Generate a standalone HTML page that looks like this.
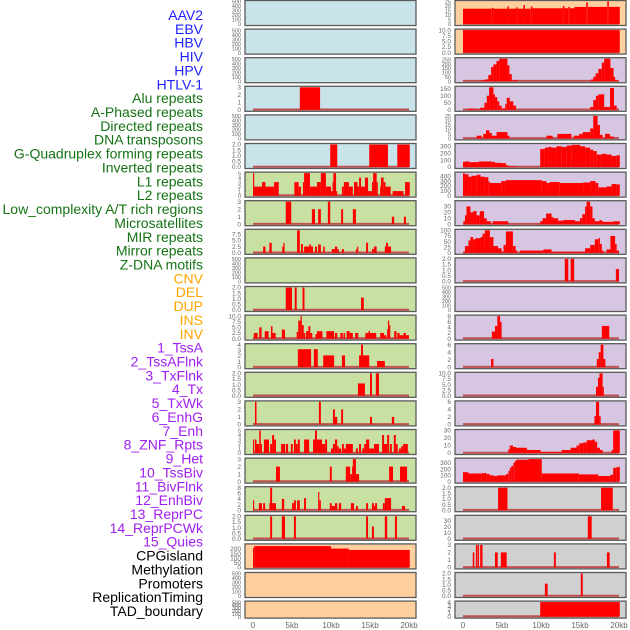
<!DOCTYPE html>
<html><head><meta charset="utf-8">
<style>
html,body{margin:0;padding:0;background:#fff;}
svg{display:block;font-family:"Liberation Sans",sans-serif;}
</style></head>
<body>
<svg id="chart" width="630" height="630" viewBox="0 0 630 630">
<g id="labels"></g>
<g id="panels"></g>
<g id="xaxis"></g>
</svg>
<script>
const trackNames = ["AAV2","EBV","HBV","HIV","HPV","HTLV-1","Alu repeats","A-Phased repeats","Directed repeats","DNA transposons","G-Quadruplex forming repeats","Inverted repeats","L1 repeats","L2 repeats","Low_complexity A/T rich regions","Microsatellites","MIR repeats","Mirror repeats","Z-DNA motifs","CNV","DEL","DUP","INS","INV","1_TssA","2_TssAFlnk","3_TxFlnk","4_Tx","5_TxWk","6_EnhG","7_Enh","8_ZNF_Rpts","9_Het","10_TssBiv","11_BivFlnk","12_EnhBiv","13_ReprPC","14_ReprPCWk","15_Quies","CPGisland","Methylation","Promoters","ReplicationTiming","TAD_boundary"];
const trackGroups = [0,0,0,0,0,0,1,1,1,1,1,1,1,1,1,1,1,1,1,2,2,2,2,2,3,3,3,3,3,3,3,3,3,3,3,3,3,3,3,4,4,4,4,4];
const xTicks = [0,5,10,15,20];
const xTickLabels = ["0","5kb","10kb","15kb","20kb"];

// Left column: segments [startKb, endKb, value]
const L00=[],L01=[],L02=[],L04=[],L09=[],L20=[],L21=[];
const L03=[[6.0,8.6,3]];
const L05=[[9.9,10.8,2],[14.9,17.3,2],[18.5,20.1,2]];
const L06=[[0,0.1,5],[0.1,1.15,2],[1.15,1.6,3],[1.6,2.7,2],[2.7,3.3,3],[5.3,5.85,3],[5.85,6.15,2],[6.4,6.55,3],[6.55,7.3,5],[7.3,8.2,2],[8.2,8.7,3],[8.7,9.35,5],[9.35,10.0,2],[10.0,10.2,1],[10.2,10.3,3],[10.3,10.65,5],[10.65,10.8,1],[11.4,11.65,2],[11.65,12.3,3],[12.3,12.8,2],[12.95,13.4,3],[13.4,13.6,2],[13.6,13.85,4],[13.85,14.35,2],[14.35,14.75,4],[14.75,15.25,1],[15.25,15.4,3],[15.4,15.85,5],[15.85,16.0,3],[16.3,16.4,2],[16.4,16.75,4],[16.75,17.0,3],[17.0,17.65,2],[17.9,19.3,1],[19.5,20.1,3]];
const L07=[[4.2,4.9,3],[7.55,7.95,2],[8.35,8.7,2],[9.6,9.9,3],[11.3,11.55,2],[12.8,13.2,2],[17.8,18.1,1],[19.35,19.6,1]];
const L08=[[1.3,1.6,2.5],[2.1,2.4,4],[3.75,3.9,2.5],[3.9,4.05,4],[5.65,6.0,9],[6.15,6.4,3.5],[6.55,7.2,2.5],[7.2,7.45,3.3],[7.45,7.7,2.5],[7.95,8.2,2.5],[8.35,8.7,3.3],[9.0,9.2,2.5],[10.1,10.5,1.5],[10.5,10.8,2.5],[10.8,11.0,1.5],[11.4,11.65,1.5],[13.2,13.35,1.5],[13.35,13.5,2.5],[14.5,14.75,4],[15.25,15.5,1.5],[15.5,15.85,2.5],[16.9,17.05,2.5],[17.05,17.3,4],[17.3,17.7,2.5]];
const L10=[[4.2,5.0,2],[5.35,5.6,2],[6.35,6.6,2],[13.85,14.2,1.1]];
const L11=[[0.1,0.6,2.5],[0.8,1.1,5],[1.5,2.0,3.3],[2.3,2.5,5.5],[2.5,2.9,2.5],[3.7,4.1,4],[5.6,5.8,3],[5.8,6.1,8],[6.1,6.25,10],[6.25,6.5,6],[6.5,6.7,2.5],[6.8,7.1,3.3],[7.1,7.35,5.5],[7.35,7.6,2.5],[8.0,8.2,2],[8.2,8.9,3.3],[9.4,10.4,3.3],[10.5,10.8,2.5],[11.2,11.5,2.5],[11.6,11.8,2.5],[12.0,12.4,3.3],[12.4,12.8,2.5],[13.1,13.5,2.5],[14.4,14.8,2.5],[14.8,15.0,3.3],[15.0,15.8,2.5],[16.3,16.8,2.5],[16.8,17.1,1.5],[17.2,17.3,4],[17.3,17.45,8],[17.45,17.6,6],[18.1,18.4,3.3],[18.5,18.8,2.5],[18.8,19.3,1.5],[19.3,19.6,2.5],[19.6,20.0,1.5]];
const L12=[[5.75,6.8,3.2],[6.8,7.45,3.2],[7.8,8.3,3.2],[9.0,10.4,2.1],[11.4,11.8,2.1],[13.6,13.85,2.1],[13.85,14.1,4],[14.1,14.9,2.1],[15.9,16.9,1.1]];
const L13=[[13.45,14.35,1.1],[15.0,15.25,2],[15.75,16.15,2]];
const L14=[[0.25,0.45,3],[8.45,8.7,3],[10.25,10.5,2],[10.5,10.8,1],[11.3,11.55,2],[15.0,15.25,1],[17.8,18.1,1]];
const L15=[[0,0.1,3],[0.25,0.45,3],[0.45,0.8,2],[0.8,1.0,5],[1.0,1.1,2],[1.4,2.05,3],[2.2,2.45,2],[2.45,2.7,4],[2.7,2.95,3],[3.6,4.1,2],[4.2,4.5,2],[4.85,5.1,2],[5.25,5.5,3],[5.5,5.75,2],[5.75,6.0,3],[6.55,7.2,3],[7.7,7.95,3],[7.95,8.2,5],[8.2,8.85,3],[8.85,9.25,2],[9.25,9.5,3],[10.0,10.25,1],[10.25,10.5,2],[10.5,10.8,3],[10.8,11.0,1.5],[11.0,11.3,1],[11.4,11.65,2],[11.65,11.9,1],[11.9,12.8,2],[13.2,13.45,1],[13.6,13.85,2],[14.0,14.25,1],[14.25,14.5,2],[14.5,14.9,3],[14.9,15.5,1],[15.5,16.15,2],[16.55,16.8,4],[16.8,17.2,2],[17.2,17.45,4],[17.55,17.8,2],[18.05,18.3,4],[18.3,18.55,2],[18.7,19.0,1],[19.0,19.25,1.5],[19.25,19.85,2]];
const L16=[[2.95,3.45,2],[9.85,10.1,2],[11.9,12.45,2],[12.45,12.7,1],[12.7,12.8,2],[12.8,13.2,3],[13.2,13.6,1],[17.45,17.95,2],[18.85,19.75,2]];
const L17=[[0,0.15,3.5],[0.75,1.15,2.5],[1.3,1.55,2.5],[2.1,2.2,2.5],[2.2,2.45,8],[2.45,2.95,2.5],[3.7,4.0,4],[5.0,5.25,2.5],[5.25,5.5,3.5],[5.65,6.0,3.5],[6.55,6.8,4.3],[8.35,8.5,6.5],[8.5,8.7,3.5],[9.85,10.1,2.5],[10.1,10.5,1.5],[10.5,10.8,2.5],[11.0,11.3,2.5],[12.55,12.95,2.5],[13.2,13.45,1.5],[14.5,14.75,2.5],[15.25,15.5,2.5],[15.5,15.65,1.5],[15.65,15.9,2.5],[16.65,16.9,2.5],[16.9,17.3,4.3],[17.3,17.7,4.3],[19.1,19.5,1.5]];
const L18=[[2.2,2.45,2],[3.7,4.1,2],[5.25,5.5,2],[14.5,14.75,2],[15.25,15.5,1.1],[16.9,17.2,2],[18.2,18.45,2]];
const L19=[[0,0.15,210],[0.15,10.0,232],[10.0,12.3,205],[12.3,20.1,190]];

// Right column
const R10=[];
const R00=[[0,3.7,17],[3.7,3.9,18],[3.9,5.7,17],[5.7,5.9,19.5],[5.9,6.8,17],[6.8,7.0,18.5],[7.0,7.75,17],[7.75,7.95,21],[7.95,8.7,17],[8.7,8.9,19.5],[8.9,12.8,17.5],[12.8,13.0,20],[13.0,13.5,17.5],[13.5,13.7,19],[13.7,14.3,17.5],[14.3,15.8,19],[15.8,16.0,24],[16.0,18.5,19],[18.5,18.7,25],[18.7,20.1,19]];
const R01=[[0,20.1,10]];
const R02=[[2.3,2.8,10],[2.8,3.25,20],[3.25,3.6,70],[3.6,3.9,160],[3.9,4.3,190],[4.3,4.65,230],[4.65,5.7,255],[5.7,5.95,180],[5.95,6.25,80],[6.25,6.45,10],[6.6,7.0,15],[16.4,16.7,20],[16.7,17.0,50],[17.0,17.35,90],[17.35,17.8,140],[17.8,18.1,210],[18.1,18.9,255],[18.9,19.3,150],[19.3,19.5,50],[19.5,19.9,10]];
const R03=[[0.5,0.9,5],[0.9,1.3,10],[1.3,2.1,5],[2.2,2.75,15],[2.75,3.05,50],[3.05,3.35,100],[3.35,3.9,160],[3.9,4.1,110],[4.1,4.4,90],[4.4,4.65,60],[4.65,4.95,30],[4.95,5.4,10],[5.4,5.6,40],[5.6,6.0,85],[6.0,6.45,60],[6.45,6.8,30],[16.3,16.7,20],[16.7,17.05,70],[17.05,17.35,100],[17.35,18.1,110],[18.1,18.85,20],[18.85,19.35,155],[19.35,19.7,30]];
const R04=[[1.75,2.4,3],[2.6,2.95,5],[2.95,3.4,9],[3.4,3.7,6],[3.7,4.3,3],[4.3,5.7,7],[5.7,5.95,3],[10.7,11.5,3],[12.1,13.9,5],[14.2,14.9,3],[14.9,15.35,5],[15.35,16.3,7],[16.3,16.7,11],[16.7,17.25,25],[17.25,17.55,15],[17.55,17.9,4],[18.2,18.85,5],[18.85,19.35,2]];
const R05=[[0,0.25,75],[0.25,0.8,80],[0.8,2.0,70],[2.0,3.7,80],[3.7,4.1,75],[4.1,4.95,60],[4.95,5.5,55],[5.5,5.8,25],[5.8,6.8,10],[9.9,10.5,260],[10.5,10.95,280],[10.95,11.35,290],[11.35,12.0,280],[12.0,12.65,300],[12.65,13.3,290],[13.3,13.95,310],[13.95,15.0,320],[15.0,15.65,300],[15.65,16.3,280],[16.3,16.7,250],[16.7,17.15,230],[17.15,17.8,180],[17.8,18.4,190],[18.4,19.05,180],[19.05,19.7,160],[19.7,20.1,170]];
const R06=[[0,0.25,460],[0.25,0.7,440],[0.7,1.1,390],[1.1,1.75,410],[1.75,2.25,430],[2.25,2.8,390],[2.8,3.25,380],[3.25,3.45,290],[3.45,4.9,260],[4.9,5.5,300],[5.5,10.1,320],[10.1,10.7,300],[10.7,11.1,260],[11.1,12.4,280],[12.4,15.4,260],[15.4,16.3,270],[16.3,17.0,300],[17.0,17.35,260],[17.35,18.4,170],[18.4,19.05,190],[19.05,19.7,240],[19.7,20.1,230]];
const R07=[[0.05,0.25,5],[0.25,0.45,15],[0.45,0.95,30],[0.95,1.3,20],[1.3,1.75,22],[1.75,2.15,15],[2.15,2.7,22],[2.7,3.05,10],[3.05,3.55,5],[3.8,5.8,5],[9.9,10.2,5],[10.2,10.65,10],[10.65,11.35,18],[11.35,11.6,12],[11.6,12.2,10],[12.2,12.85,6],[12.85,14.35,7],[14.35,15.0,5],[15.0,15.3,10],[15.3,15.65,17],[15.65,15.85,30],[15.85,16.3,38],[16.3,16.6,30],[16.6,16.9,10],[16.9,17.5,5],[17.5,17.8,7],[17.8,18.0,5],[18.0,19.3,4],[19.3,20.1,5]];
const R08=[[0.05,0.25,5],[0.25,0.7,30],[0.7,0.95,55],[0.95,1.3,70],[1.3,1.6,60],[1.6,2.25,65],[2.25,2.5,70],[2.5,2.8,85],[2.8,3.45,100],[3.45,3.9,70],[3.9,4.5,30],[4.5,4.95,20],[4.95,5.15,5],[5.2,5.5,35],[5.5,6.4,95],[6.4,6.75,30],[6.75,6.95,10],[7.3,9.9,10],[9.9,10.3,10],[10.3,11.35,15],[11.35,15.65,5],[15.65,16.3,20],[16.3,16.9,35],[16.9,17.35,60],[17.35,17.55,65],[17.55,17.8,40],[17.8,18.0,10],[18.4,18.9,15],[18.9,19.5,75],[19.5,19.7,40],[19.7,20.0,10]];
const R09=[[13.05,13.5,2],[13.8,14.25,2],[19.6,20.0,1.1]];
const R11=[[3.7,4.1,2.5],[4.1,4.4,4.5],[4.4,4.75,8],[4.75,4.95,6],[17.8,18.75,4.5]];
const R12=[[3.6,3.9,2.2],[17.15,17.4,2.2],[17.4,17.65,4],[17.65,18.0,6],[18.0,18.25,2.2]];
const R13=[[17.05,17.3,4],[17.3,17.5,8],[17.5,17.9,10],[17.9,18.05,4]];
const R14=[[16.85,17.05,2.2],[17.05,17.45,6],[17.45,17.65,2.2]];
const R15=[[5.8,6.0,5],[6.0,6.4,10],[6.4,6.8,8],[6.8,8.2,7],[8.2,9.95,4],[9.95,12.65,1.5],[12.65,13.8,4],[13.8,14.55,7],[14.55,14.9,10],[14.9,15.4,13],[15.4,15.85,14],[15.85,16.6,17],[16.6,16.9,18],[16.9,17.2,15],[17.2,17.55,7],[17.55,17.9,4],[19.05,19.25,4],[19.25,20.1,30]];
const R16=[[0,0.7,150],[0.7,2.4,130],[2.4,3.05,135],[3.05,3.45,120],[3.45,3.95,100],[3.95,4.4,90],[4.4,5.5,100],[5.5,5.8,120],[5.8,6.0,170],[6.0,6.2,220],[6.2,6.45,250],[6.45,6.65,300],[6.65,6.8,330],[6.8,8.4,350],[8.4,10.1,360],[10.1,14.85,130],[14.85,17.35,115],[17.35,18.9,90],[18.9,19.25,110],[19.25,19.7,220],[19.7,20.1,235]];
const R17=[[4.5,5.7,2],[17.7,19.2,2]];
const R18=[[16.0,16.5,38]];
const R19=[[1.25,1.45,2],[1.65,1.85,3],[1.9,2.0,3],[2.2,2.5,3],[4.1,4.45,2],[4.85,5.6,2],[11.65,11.9,2],[18.45,18.8,2]];
const R20=[[10.5,10.85,1.1],[15.1,15.35,2]];
const R21=[[9.9,20.1,4]];

const leftData=[L00,L01,L02,L03,L04,L05,L06,L07,L08,L09,L10,L11,L12,L13,L14,L15,L16,L17,L18,L19,L20,L21];
const rightData=[R00,R01,R02,R03,R04,R05,R06,R07,R08,R09,R10,R11,R12,R13,R14,R15,R16,R17,R18,R19,R20,R21];
const leftYMax=[500,500,500,3,500,2,5,3,9,500,2,10,4,2,3,5,3,8,2,245,500,500];
const rightYMax=[25,10,255,160,25,325,465,38,100,2,500,8,6,10,6,30,360,2,38,3,2,4];
const leftTicks=[
 ["0","100","200","300","400","500"],["0","100","200","300","400","500"],["0","100","200","300","400","500"],
 ["0","1","2","3"],["0","100","200","300","400","500"],["0.0","0.5","1.0","1.5","2.0"],
 ["0","1","2","3","4","5"],["0","1","2","3"],["0.0","2.5","5.0","7.5"],["0","100","200","300","400","500"],
 ["0.0","0.5","1.0","1.5","2.0"],["0.0","2.5","5.0","7.5","10.0"],["0","1","2","3","4"],["0.0","0.5","1.0","1.5","2.0"],
 ["0","1","2","3"],["0","1","2","3","4","5"],["0","1","2","3"],["0","2","4","6","8"],["0.0","0.5","1.0","1.5","2.0"],
 ["0","50","100","150","200"],["0","100","200","300","400","500"],["0","100","200","300","400","500"]];
const rightTicks=[
 ["0","5","10","15","20","25"],["0.0","2.5","5.0","7.5","10.0"],["0","50","100","150","200","250"],["0","50","100","150"],
 ["0","5","10","15","20","25"],["0","100","200","300"],["0","100","200","300","400"],["0","10","20","30"],
 ["0","25","50","75","100"],["0.0","0.5","1.0","1.5","2.0"],["0","100","200","300","400","500"],["0","2","4","6","8"],
 ["0","2","4","6"],["0.0","2.5","5.0","7.5","10.0"],["0","2","4","6"],["0","10","20","30"],["0","100","200","300"],
 ["0.0","0.5","1.0","1.5","2.0"],["0","10","20","30"],["0","1","2","3"],["0.0","0.5","1.0","1.5","2.0"],["0","1","2","3","4"]];

const groupColors=["#1f1fff","#157315","#ffa500","#a020f0","#000000"];
const leftBg=["#c8e3ea","#c8e3ea","#c8e3ea","#c8e3ea","#c8e3ea","#c8e3ea","#c8e0a2","#c8e0a2","#c8e0a2","#c8e0a2","#c8e0a2","#c8e0a2","#c8e0a2","#c8e0a2","#c8e0a2","#c8e0a2","#c8e0a2","#c8e0a2","#c8e0a2","#ffd09e","#ffd09e","#ffd09e"];
const rightBg=["#ffd09e","#ffd09e","#d6c6e2","#d6c6e2","#d6c6e2","#d6c6e2","#d6c6e2","#d6c6e2","#d6c6e2","#d6c6e2","#d6c6e2","#d6c6e2","#d6c6e2","#d6c6e2","#d6c6e2","#d6c6e2","#d6c6e2","#d0d0d0","#d0d0d0","#d0d0d0","#d0d0d0","#d0d0d0"];

const NS="http://www.w3.org/2000/svg";
function mk(tag,attrs,parent){const e=document.createElementNS(NS,tag);for(const k in attrs)e.setAttribute(k,attrs[k]);parent.appendChild(e);return e;}

// labels
const lg=document.getElementById('labels');
const labStep=(611-15)/43;
trackNames.forEach((n,i)=>{
  const t=mk('text',{x:203,y:15+i*labStep+5,'text-anchor':'end','font-size':'14',fill:groupColors[trackGroups[i]]},lg);
  
  
  t.textContent=n;
});

const pg=document.getElementById('panels');
const cols=[{x0:245,x1:416,k0:253,k20:409,data:leftData,ymax:leftYMax,ticks:leftTicks,bg:leftBg,side:'left'},
            {x0:455,x1:626,k0:463,k20:619,data:rightData,ymax:rightYMax,ticks:rightTicks,bg:rightBg,side:'right'}];
const pitch=28.6;
cols.forEach(c=>{
  const xs=kb=>c.k0+kb*(c.k20-c.k0)/20;
  for(let i=0;i<22;i++){
    const top=0.5+i*pitch;
    const h=(i===21)?17:25;
    const bot=top+h;
    const g=mk('g',{},pg);
    
    
    const r=mk('rect',{x:c.x0,y:top,width:c.x1-c.x0,height:h,fill:c.bg[i]},g);
    
    
    const ym=c.ymax[i];
    const ys=v=>(bot-1.5)-v/ym*(h-2.5);
    const segs=c.data[i];
    if(segs.length){
      const bl=mk('line',{x1:xs(0),x2:xs(20),y1:ys(0)-0.3,y2:ys(0)-0.3,stroke:'#c05050','stroke-width':2},g);
      
      
    }
    segs.forEach(s=>{
      const y=ys(s[2]);
      const b=mk('rect',{x:xs(s[0]),y:y,width:Math.max(1.2,xs(s[1])-xs(s[0])),height:ys(0)-y,fill:'#ff0000'},g);
      
      
    });
    const fr=mk('rect',{x:c.x0,y:top,width:c.x1-c.x0,height:h,fill:'none',stroke:'#5a5a5a','stroke-width':1.3},g);
    
    
    const tk=c.ticks[i];
    const fs=tk.length>5?5.5:6.5;
    tk.forEach(lbl=>{
      const v=parseFloat(lbl);
      const t=mk('text',{x:c.x0-4,y:ys(v)+2.2,'text-anchor':'end','font-size':fs,fill:'#666'},g);
      
      
      t.textContent=lbl;
    });
  }
  xTicks.forEach((k,j)=>{
    const t=mk('text',{x:xs(k),y:628,'text-anchor':'middle','font-size':'8',fill:'#666'},document.getElementById('xaxis'));
    
    
    t.textContent=xTickLabels[j];
  });
});
</script>
</body></html>
